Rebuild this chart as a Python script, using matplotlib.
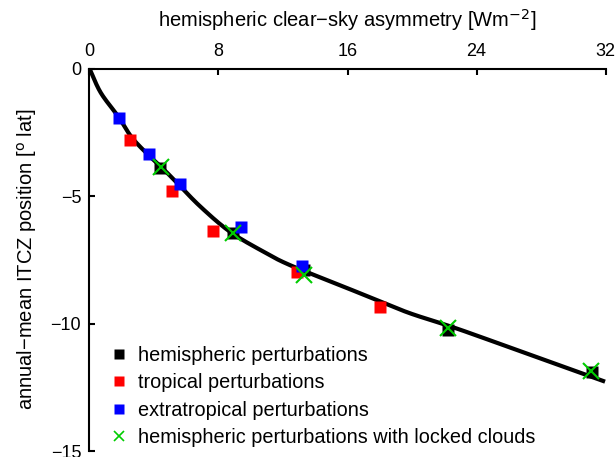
import numpy as np
import matplotlib
matplotlib.use('Agg')
import matplotlib.pyplot as plt

plt.rcParams['font.family'] = ['Liberation Sans', 'DejaVu Sans']

# fitted curve
curve_x = [0, 0.7, 1.79, 2.62, 3.65, 4.48, 5.30, 6.85, 8.71, 10.78, 12.43,
           15.74, 17.81, 19.88, 22.56, 25.46, 28.56, 31.97]
curve_y = [0, -0.95, -1.89, -2.70, -3.39, -3.88, -4.40, -5.40, -6.40, -7.18, -7.71,
           -8.55, -9.08, -9.60, -10.15, -10.80, -11.50, -12.28]

# hemispheric perturbations
hemi_x = [4.37, 8.88, 13.3, 22.25, 31.14]
hemi_y = [-3.91, -6.46, -7.9, -10.26, -11.89]

# tropical perturbations
trop_x = [2.51, 5.12, 7.66, 12.85, 18.02]
trop_y = [-2.80, -4.80, -6.37, -7.97, -9.36]

# extratropical perturbations
extra_x = [1.83, 3.69, 5.61, 9.40, 13.16]
extra_y = [-1.94, -3.35, -4.53, -6.22, -7.74]

# hemispheric perturbations with locked clouds
lock_x = [4.41, 8.88, 13.3, 22.25, 31.08]
lock_y = [-3.87, -6.46, -8.1, -10.19, -11.85]


def smooth(xs, ys, n=20):
    # Catmull-Rom rendering through the read points
    p = np.column_stack([xs, ys]).astype(float)
    p = np.vstack([p[0] - (p[1] - p[0]), p, p[-1] + (p[-1] - p[-2])])
    out = []
    t = np.linspace(0, 1, n, endpoint=False)[:, None]
    for i in range(1, len(p) - 2):
        p0, p1, p2, p3 = p[i - 1], p[i], p[i + 1], p[i + 2]
        seg = 0.5 * ((2 * p1) + (-p0 + p2) * t + (2 * p0 - 5 * p1 + 4 * p2 - p3) * t ** 2
                     + (-p0 + 3 * p1 - 3 * p2 + p3) * t ** 3)
        out.append(seg)
    out.append(p[-2][None, :])
    out = np.vstack(out)
    return out[:, 0], out[:, 1]


fig = plt.figure(figsize=(6.15, 4.57), dpi=100)
ax = fig.add_axes([0.1455, 0.0131, 0.8391, 0.8370])

sx, sy = smooth(curve_x, curve_y)
ax.plot(sx, sy, color='black', lw=3, solid_capstyle='butt', zorder=2)
ax.plot(hemi_x, hemi_y, 's', color='black', ms=8.5, mec='none', zorder=3,
        label='hemispheric perturbations')
ax.plot(trop_x, trop_y, 's', color='#ff0000', ms=8.5, mec='none', zorder=3,
        label='tropical perturbations')
ax.plot(extra_x, extra_y, 's', color='#0000ff', ms=8.5, mec='none', zorder=3,
        label='extratropical perturbations')
ax.plot(lock_x, lock_y, 'x', color='#00cc00', ms=12, mew=1.5, zorder=4,
        label='hemispheric perturbations with locked clouds')

ax.set_xlim(0, 32)
ax.set_ylim(-15, 0)
ax.set_xticks([0, 8, 16, 24, 32])
ax.set_yticks([0, -5, -10, -15])

ax.xaxis.set_label_position('top')
ax.xaxis.tick_top()
ax.spines['bottom'].set_visible(False)
ax.spines['right'].set_visible(False)
ax.spines['top'].set_linewidth(1.5)
ax.spines['left'].set_linewidth(1.5)
ax.tick_params(direction='in', length=4, width=1.5, labelsize=13, pad=6)

ax.set_xlabel('hemispheric clear\u2212sky asymmetry [Wm$^{-2}$]', fontsize=14.5, labelpad=12)
ax.set_ylabel('annual\u2212mean ITCZ position [$^{\\rm o}$ lat]', fontsize=14.5, labelpad=8)

leg = ax.legend(loc='lower left', frameon=False, fontsize=14.3, handlelength=0.7,
                handletextpad=0.6, labelspacing=0.42, borderaxespad=0.0,
                bbox_to_anchor=(0.028, -0.01))
for h in leg.legend_handles:
    h.set_markersize(7)
leg.legend_handles[3].set_markeredgewidth(1.2)

plt.savefig('out.png', dpi=100)
